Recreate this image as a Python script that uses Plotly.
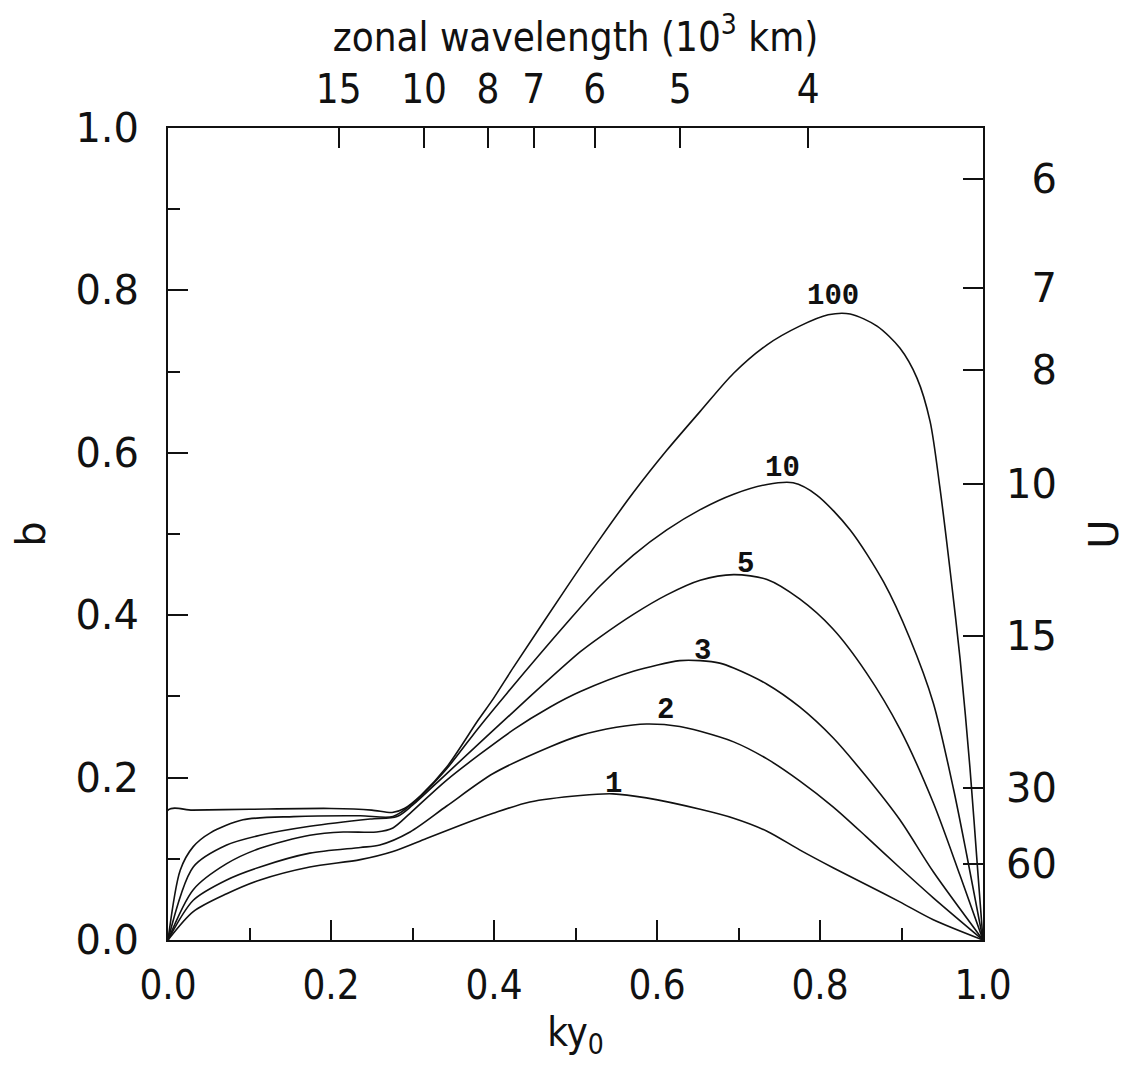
import math

import plotly.graph_objects as go

# curve values: b as a function of k*y0, one curve per parameter value
ky_100 = [0.0, 0.0, 0.03, 0.1, 0.2, 0.25, 0.275, 0.29, 0.31, 0.342, 0.38, 0.399, 0.424, 0.489, 0.53, 0.571,
          0.612, 0.653, 0.694, 0.735, 0.775, 0.81, 0.837, 0.87, 0.898, 0.919, 0.935, 0.947, 0.96,
          0.972, 0.984, 0.994, 1.0]
b_100 = [0.0, 0.16, 0.16, 0.161, 0.162, 0.16, 0.157, 0.162, 0.178, 0.213, 0.27, 0.297, 0.336, 0.434, 0.494, 0.551,
         0.603, 0.651, 0.698, 0.733, 0.756, 0.77, 0.771, 0.756, 0.729, 0.692, 0.639, 0.558, 0.452,
         0.345, 0.212, 0.079, 0.0]

ky_10 = [0.0, 0.015, 0.031, 0.052, 0.092, 0.154, 0.236, 0.276, 0.3, 0.342, 0.38, 0.416, 0.489, 0.53, 0.571,
         0.612, 0.653, 0.694, 0.735, 0.767, 0.796, 0.837, 0.878, 0.91, 0.939, 0.964, 0.98, 1.0]
b_10 = [0.0, 0.086, 0.115, 0.132, 0.148, 0.152, 0.153, 0.152, 0.168, 0.211, 0.26, 0.304, 0.39, 0.436, 0.474,
        0.505, 0.53, 0.549, 0.561, 0.563, 0.548, 0.505, 0.441, 0.372, 0.292, 0.185, 0.105, 0.0]

ky_5 = [0.0, 0.031, 0.072, 0.113, 0.174, 0.248, 0.281, 0.3, 0.342, 0.44, 0.506, 0.53, 0.571, 0.612, 0.653,
        0.694, 0.735, 0.775, 0.816, 0.857, 0.898, 0.939, 0.972, 1.0]
b_5 = [0.0, 0.09, 0.117, 0.129, 0.14, 0.149, 0.152, 0.166, 0.205, 0.296, 0.355, 0.373, 0.401, 0.425, 0.443,
       0.45, 0.444, 0.42, 0.383, 0.329, 0.26, 0.169, 0.079, 0.0]

ky_3 = [0.0, 0.031, 0.072, 0.113, 0.174, 0.215, 0.256, 0.276, 0.297, 0.342, 0.424, 0.469, 0.506, 0.571,
        0.628, 0.653, 0.677, 0.694, 0.735, 0.775, 0.816, 0.857, 0.898, 0.939, 1.0]
b_3 = [0.0, 0.062, 0.094, 0.113, 0.129, 0.133, 0.133, 0.138, 0.156, 0.197, 0.259, 0.287, 0.306, 0.331,
       0.344, 0.344, 0.341, 0.335, 0.315, 0.287, 0.249, 0.201, 0.148, 0.084, 0.0]

ky_2 = [0.0, 0.031, 0.072, 0.113, 0.174, 0.236, 0.26, 0.297, 0.342, 0.399, 0.469, 0.506, 0.55, 0.587,
        0.628, 0.653, 0.694, 0.735, 0.775, 0.816, 0.857, 0.898, 0.939, 1.0]
b_2 = [0.0, 0.049, 0.074, 0.09, 0.107, 0.114, 0.117, 0.133, 0.165, 0.205, 0.238, 0.252, 0.262, 0.266,
       0.263, 0.257, 0.244, 0.223, 0.196, 0.164, 0.127, 0.089, 0.052, 0.0]

ky_1 = [0.0, 0.031, 0.072, 0.113, 0.174, 0.236, 0.276, 0.317, 0.358, 0.399, 0.444, 0.506, 0.546, 0.587,
        0.653, 0.694, 0.735, 0.775, 0.816, 0.857, 0.898, 0.939, 1.0]
b_1 = [0.0, 0.035, 0.057, 0.074, 0.09, 0.099, 0.109, 0.125, 0.141, 0.156, 0.17, 0.178, 0.18, 0.175,
       0.161, 0.15, 0.134, 0.111, 0.089, 0.068, 0.047, 0.025, 0.0]

curve_names = ["100", "10", "5", "3", "2", "1"]
curve_label_x = [0.816, 0.754, 0.708, 0.656, 0.611, 0.547]
curve_label_y = [0.793, 0.581, 0.462, 0.355, 0.283, 0.191]

# secondary axes: zonal wavelength (10^3 km) on top, U on the right
wavelength_labels = [15, 10, 8, 7, 6, 5, 4]
u_labels = [6, 7, 8, 10, 15, 30, 60]

curves = [(ky_100, b_100), (ky_10, b_10), (ky_5, b_5), (ky_3, b_3), (ky_2, b_2), (ky_1, b_1)]

ink = "#111111"
num_font = dict(family="DejaVu Sans", size=40, color=ink)
narrow_font = dict(family="Liberation Sans Narrow, DejaVu Sans Condensed, DejaVu Sans", size=40, color=ink)

fig = go.Figure()
for (x, y), name in zip(curves, curve_names):
    fig.add_trace(
        go.Scatter(
            x=x,
            y=y,
            mode="lines",
            name=name,
            line={"color": ink, "width": 1.6, "shape": "spline", "smoothing": 0.8},
            showlegend=False,
        )
    )

# empty trace so the top/right axes get drawn
fig.add_trace(go.Scatter(x=[None], y=[None], xaxis="x2", yaxis="y2", showlegend=False, hoverinfo="skip"))

for name, lx, ly in zip(curve_names, curve_label_x, curve_label_y):
    fig.add_annotation(
        x=lx, y=ly, text="<b>" + name + "</b>", showarrow=False,
        font={"family": "Liberation Mono", "size": 29, "color": ink},
    )

# right-hand labels are right-aligned in the original: pad single digits with a figure space
u_text = [str(u).rjust(2, "\u2007") for u in u_labels]

fig.update_layout(
    width=1120,
    height=1053,
    autosize=False,
    margin={"l": 160, "r": 145, "t": 120, "b": 121},
    paper_bgcolor="white",
    plot_bgcolor="white",
    xaxis={
        "range": [0, 1],
        "tickvals": [0, 0.2, 0.4, 0.6, 0.8, 1.0],
        "ticktext": ["0.0", "0.2", "0.4", "0.6", "0.8", "1.0"],
        "ticks": "inside",
        "ticklen": 20,
        "tickwidth": 1.5,
        "tickcolor": ink,
        "minor": {"tickvals": [0.1, 0.3, 0.5, 0.7, 0.9], "ticks": "inside", "ticklen": 12,
                  "tickwidth": 1.5, "tickcolor": ink, "showgrid": False},
        "showline": True,
        "linecolor": ink,
        "linewidth": 2,
        "mirror": True,
        "showgrid": False,
        "zeroline": False,
        "automargin": False,
        "tickfont": narrow_font,
        "ticklabelstandoff": 9,
        "title": {"text": "ky<sub>0</sub>", "font": narrow_font, "standoff": 36},
    },
    xaxis2={
        "overlaying": "x",
        "side": "top",
        "range": [0, 1],
        "tickvals": [math.pi / w for w in wavelength_labels],
        "ticktext": [str(w) for w in wavelength_labels],
        "ticks": "inside",
        "ticklen": 20,
        "tickwidth": 1.5,
        "tickcolor": ink,
        "showline": False,
        "showgrid": False,
        "zeroline": False,
        "automargin": False,
        "tickfont": narrow_font,
        "ticklabelstandoff": 16,
        "title": {"text": "zonal wavelength (10<sup>3</sup> km)", "font": narrow_font, "standoff": 14},
    },
    yaxis={
        "range": [0, 1],
        "tickvals": [0, 0.2, 0.4, 0.6, 0.8, 1.0],
        "ticktext": ["0.0", "0.2", "0.4", "0.6", "0.8", "1.0"],
        "ticks": "inside",
        "ticklen": 20,
        "tickwidth": 1.5,
        "tickcolor": ink,
        "minor": {"tickvals": [0.1, 0.3, 0.5, 0.7, 0.9], "ticks": "inside", "ticklen": 12,
                  "tickwidth": 1.5, "tickcolor": ink, "showgrid": False},
        "showline": True,
        "linecolor": ink,
        "linewidth": 2,
        "mirror": True,
        "showgrid": False,
        "zeroline": False,
        "automargin": False,
        "tickfont": num_font,
        "ticklabelstandoff": 19,
        "title": {"text": "b", "font": num_font, "standoff": 28},
    },
    yaxis2={
        "overlaying": "y",
        "side": "right",
        "range": [0, 1],
        "tickvals": [5.62 / u for u in u_labels],
        "ticktext": u_text,
        "ticks": "inside",
        "ticklen": 20,
        "tickwidth": 1.5,
        "tickcolor": ink,
        "showline": False,
        "showgrid": False,
        "zeroline": False,
        "automargin": False,
        "tickfont": num_font,
        "ticklabelstandoff": 22,
        "title": {"text": "U", "font": num_font, "standoff": 34},
    },
)

fig.write_html("out.html")
